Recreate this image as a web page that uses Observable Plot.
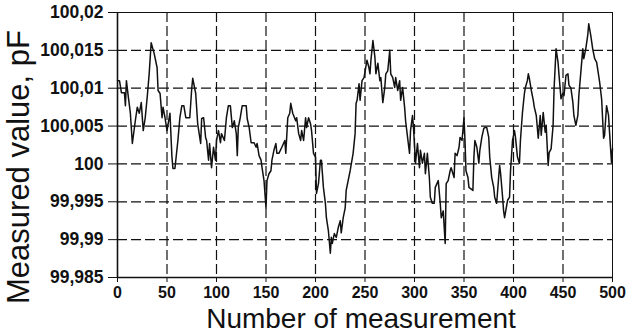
<!DOCTYPE html>
<html><head><meta charset="utf-8">
<script src="https://cdn.jsdelivr.net/npm/d3@7"></script>
<script src="https://cdn.jsdelivr.net/npm/@observablehq/plot@0.6"></script>
<style>html,body{margin:0;padding:0;background:#fff}</style>
</head><body><div id="chart"></div>
<script>
const measurementIndex = [
  0,2,4,7,8,9,11,13,15,18,20,22,24,26,28,30,32,34,37,40,41,43,45,46,48,50,53,55,56,58,61,63,65,67,69,73,75,76,79,81,84,
  85,87,89,90,92,93,95,97,99,100,102,104,105,108,110,112,114,116,118,120,121,122,124,126,130,131,133,135,138,140,141,143,145,146,148,150,151,153,155,156,158,160,161,163,166,169,
  170,172,174,175,177,180,181,183,185,186,188,190,191,193,195,196,198,200,201,203,205,206,208,210,211,213,215,216,217,219,221,223,225,226,228,230,231,235,238,240,241,242,244,245,247,249,252,254,
  255,256,258,260,261,263,265,266,268,270,271,273,275,276,278,280,281,283,285,286,288,290,291,293,295,296,298,299,301,303,305,306,308,310,311,313,315,316,318,320,321,324,326,327,329,331,332,334,336,337,
  340,341,343,345,346,348,350,351,352,354,355,359,360,361,363,365,366,368,370,371,373,375,376,378,380,381,383,385,386,387,389,390,391,394,396,397,399,401,402,404,406,407,409,411,412,414,415,416,418,420,421,423,
  425,427,428,430,432,433,435,436,438,440,441,443,445,446,448,450,451,453,455,456,458,460,461,463,465,466,468,470,471,473,475,476,478,480,482,484,487,489,491,492,494,496,497,499,500
];
const measuredValue = [
  100.0110,100.0110,100.0094,100.0094,100.0077,100.0110,100.0088,100.0067,100.0027,100.0057,100.0075,100.0067,100.0081,100.0044,100.0061,100.0088,100.0119,100.0160,100.0146,100.0127,100.0097,100.0093,100.0061,100.0075,100.0061,100.0044,100.0067,100.0009,99.9994,99.9994,100.0031,100.0061,100.0077,100.0077,100.0061,100.0061,100.0100,100.0113,100.0093,100.0053,100.0027,
  100.0060,100.0061,100.0035,100.0031,100.0005,100.0027,99.9995,100.0022,100.0005,100.0031,100.0044,100.0028,100.0040,100.0031,100.0061,100.0077,100.0077,100.0048,100.0057,100.0040,100.0011,100.0048,100.0061,100.0077,100.0077,100.0060,100.0048,100.0028,100.0028,100.0022,100.0027,100.0011,100.0005,99.9995,99.9978,99.9942,99.9978,99.9987,99.9991,100.0005,100.0018,100.0027,100.0014,100.0014,100.0022,100.0031,
  100.0014,100.0061,100.0067,100.0080,100.0067,100.0057,100.0061,100.0040,100.0031,100.0044,100.0031,100.0061,100.0048,100.0061,100.0053,100.0044,100.0014,100.0009,99.9961,99.9974,100.0005,100.0005,99.9969,99.9948,99.9929,99.9912,99.9882,99.9903,99.9895,99.9908,99.9903,99.9916,99.9925,99.9909,99.9929,99.9942,99.9965,99.9991,100.0014,100.0040,100.0080,100.0084,100.0106,100.0084,100.0110,100.0114,100.0137,100.0127,
  100.0119,100.0137,100.0163,100.0141,100.0119,100.0133,100.0110,100.0114,100.0081,100.0101,100.0119,100.0123,100.0150,100.0119,100.0114,100.0101,100.0114,100.0097,100.0110,100.0084,100.0101,100.0075,100.0057,100.0035,100.0014,100.0044,100.0064,100.0048,100.0001,100.0027,99.9995,100.0018,100.0001,100.0014,99.9987,100.0014,99.9982,99.9956,99.9948,99.9948,99.9969,99.9978,99.9948,99.9929,99.9938,99.9895,99.9974,99.9978,99.9991,99.9995,
  99.9982,100.0014,100.0011,100.0022,100.0035,100.0031,100.0061,100.0031,99.9991,99.9982,99.9969,99.9965,100.0009,100.0031,100.0022,100.0001,100.0018,100.0035,100.0047,100.0048,100.0048,100.0035,100.0009,99.9982,99.9969,99.9956,99.9948,99.9982,99.9998,99.9987,99.9956,99.9938,99.9929,99.9952,99.9956,99.9991,100.0031,100.0044,100.0035,100.0009,100.0001,100.0031,100.0067,100.0093,100.0101,100.0110,100.0119,100.0113,100.0097,100.0084,100.0075,100.0064,
  100.0034,100.0064,100.0038,100.0068,100.0042,100.0051,99.9998,100.0015,100.0020,100.0051,100.0100,100.0152,100.0134,100.0117,100.0086,100.0094,100.0090,100.0117,100.0119,100.0104,100.0100,100.0081,100.0064,100.0051,100.0064,100.0090,100.0121,100.0152,100.0139,100.0152,100.0170,100.0185,100.0170,100.0152,100.0139,100.0134,100.0108,100.0086,100.0034,100.0038,100.0077,100.0064,100.0042,100.0002,100.0020
];
const xTicks = [0, 50, 100, 150, 200, 250, 300, 350, 400, 450, 500];
const yTicks = [99.985, 99.99, 99.995, 100, 100.005, 100.01, 100.015, 100.02];
const xTitle = "Number of measurement";
const yTitle = "Measured value, pF";

const n = Math.min(measurementIndex.length, measuredValue.length);
const data = measurementIndex.slice(0, n).map((x, i) => ({x, v: measuredValue[i]}));
const fmt = d => String(+d.toFixed(3)).replace(".", ",");
const ink = "#111";

const chart = Plot.plot({
  width: 627, height: 333,
  marginLeft: 117, marginRight: 15, marginTop: 12, marginBottom: 56,
  style: {fontFamily: "'Liberation Sans', Arial, sans-serif", fontSize: "16px", fontWeight: "bold", color: ink, background: "#fff"},
  x: {domain: [0, 500], ticks: xTicks, tickSize: 5, tickPadding: 4, label: null},
  y: {domain: [99.985, 100.02], ticks: yTicks, tickFormat: fmt, tickSize: 9, tickPadding: 5, label: null},
  marks: [
    Plot.ruleX(xTicks.slice(1, -1), {stroke: ink, strokeWidth: 1.2, strokeDasharray: "10,4"}),
    Plot.ruleY(yTicks.slice(1, -1), {stroke: ink, strokeWidth: 1.2, strokeDasharray: "10,4"}),
    Plot.frame({stroke: ink, strokeWidth: 1}),
    Plot.ruleX([0], {stroke: ink, strokeWidth: 1.6}),
    Plot.ruleY([99.985], {stroke: ink, strokeWidth: 1.6}),
    Plot.line(data, {x: "x", y: "v", stroke: ink, strokeWidth: 1.5}),
    Plot.text([yTitle], {text: d => d, frameAnchor: "left", textAnchor: "middle", rotate: -90, dx: -98, dy: 22, fontSize: 31, fontWeight: "normal", lineAnchor: "middle", fill: ink}),
    Plot.text([xTitle], {text: d => d, frameAnchor: "bottom", textAnchor: "middle", dx: -4, dy: 50, fontSize: 28, fontWeight: "normal", lineAnchor: "bottom", fill: ink})
  ]
});
d3.select(chart).selectAll('g[aria-label^="y-axis"]').attr("font-size", 17.5);
document.getElementById("chart").appendChild(chart);
</script>
</body></html>
